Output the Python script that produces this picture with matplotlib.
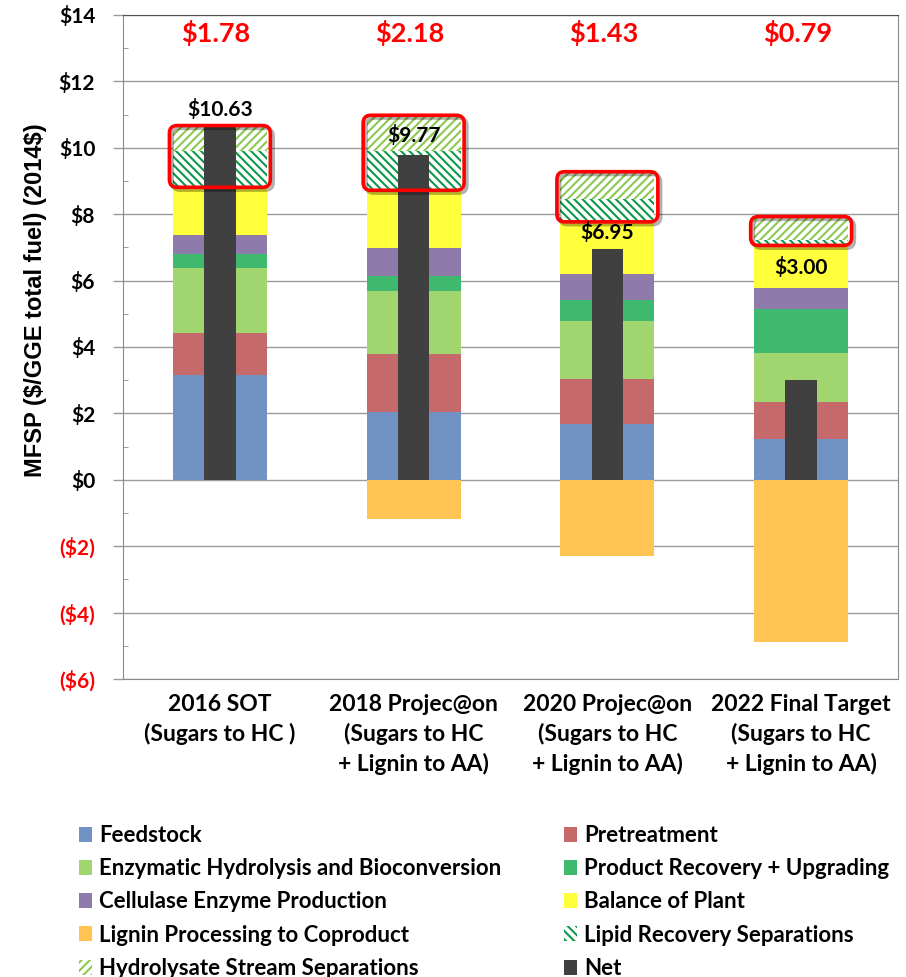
import matplotlib
matplotlib.use("Agg")
import matplotlib.pyplot as plt
import matplotlib.patheffects as pe
from matplotlib.patches import FancyBboxPatch, Patch
import numpy as np

NARROW = ["Liberation Sans Narrow", "DejaVu Sans Condensed", "Lato", "DejaVu Sans"]
plt.rcParams["font.family"] = NARROW
plt.rcParams["font.weight"] = "bold"
plt.rcParams["hatch.linewidth"] = 1.5

# --- data (2014$ / GGE) ---
categories = ["2016 SOT\n(Sugars to HC )",
              "2018 Projec@on\n(Sugars to HC\n+ Lignin to AA)",
              "2020 Projec@on\n(Sugars to HC\n+ Lignin to AA)",
              "2022 Final Target\n(Sugars to HC\n+ Lignin to AA)"]
feedstock = [3.16, 2.03, 1.68, 1.22]
pretreatment = [1.26, 1.76, 1.35, 1.11]
enzymatic = [1.96, 1.89, 1.75, 1.49]
product_recovery = [0.42, 0.45, 0.65, 1.33]
cellulase = [0.58, 0.85, 0.78, 0.64]
balance_of_plant = [1.47, 1.78, 1.60, 1.31]
lignin = [0.0, -1.17, -2.29, -4.89]
lipid = [1.05, 1.14, 0.64, 0.12]
hydrolysate = [0.73, 1.04, 0.79, 0.67]
net = [10.63, 9.77, 6.95, 3.00]
separation_costs = ["$1.78", "$2.18", "$1.43", "$0.79"]
net_labels = ["$10.63", "$9.77", "$6.95", "$3.00"]
net_label_y = [11.15, 10.36, 7.45, 6.40]

c_feed = "#7093c3"
c_pret = "#c5696b"
c_enz = "#a0d570"
c_prod = "#3fb96e"
c_cell = "#8f7bab"
c_bop = "#ffff3c"
c_lig = "#ffc452"
c_lipid = "#0a9a4a"
c_hydro = "#8cc850"
c_net = "#404040"

fig = plt.figure(figsize=(9.06, 9.77), dpi=100)
ax_l, ax_b, ax_w, ax_h = 123 / 906, 1 - 679 / 977, 775 / 906, 664 / 977
ax = fig.add_axes([ax_l, ax_b, ax_w, ax_h])

x = np.arange(len(categories))
w = 0.485
bottom = np.zeros(len(x))
solid = [(feedstock, c_feed), (pretreatment, c_pret), (enzymatic, c_enz),
         (product_recovery, c_prod), (cellulase, c_cell), (balance_of_plant, c_bop)]
for vals, col in solid:
    ax.bar(x, vals, w, bottom=bottom, color=col, lw=0, zorder=2)
    bottom += np.array(vals)
sep_bottom = bottom.copy()
ax.bar(x, lipid, w, bottom=bottom, facecolor="white", edgecolor=c_lipid,
       hatch="\\\\\\\\", lw=0, zorder=2)
bottom += np.array(lipid)
ax.bar(x, hydrolysate, w, bottom=bottom, facecolor="white", edgecolor=c_hydro,
       hatch="////", lw=0, zorder=2)
bottom += np.array(hydrolysate)
ax.bar(x, lignin, w, color=c_lig, lw=0, zorder=2)
ax.bar(x, net, 0.162, color=c_net, lw=0, zorder=3)

# red boxes round the separation costs
aspect = (ax_w * 906 / 4.0) / (ax_h * 977 / 20.0)
for i in range(len(x)):
    box = FancyBboxPatch((x[i] - w / 2 - 0.018, sep_bottom[i] - 0.04), w + 0.036,
                         bottom[i] - sep_bottom[i] + 0.08,
                         boxstyle="round,pad=0,rounding_size=0.04",
                         mutation_aspect=aspect, fill=False, ec="#ff0000", lw=2.6,
                         zorder=5,
                         path_effects=[pe.SimpleLineShadow(offset=(2, -2), alpha=0.3),
                                       pe.Normal()])
    ax.add_patch(box)
    ax.text(x[i], net_label_y[i], net_labels[i], ha="center", va="center",
            fontsize=15, color="black", zorder=6)
    ax.text(x[i] - 0.02, 13.45, separation_costs[i], ha="center", va="center",
            fontsize=19.5, color="#ff0000", zorder=6)

ax.set_xlim(-0.5, 3.5)
ax.set_ylim(-6, 14)
ax.set_yticks(np.arange(-6, 15, 2))
ax.set_yticks(np.arange(-5, 14, 2), minor=True)
ax.set_yticklabels([f"(${-v})" if v < 0 else f"${v}" for v in range(-6, 15, 2)], fontsize=15)
for lab, v in zip(ax.get_yticklabels(), range(-6, 15, 2)):
    if v < 0:
        lab.set_color("#ff0000")
ax.tick_params(axis="y", which="major", length=7, width=1, color="#9a9a9a", pad=13)
ax.tick_params(axis="y", which="minor", direction="in", length=3.5, color="#888888")
ax.set_xticks(x)
ax.set_xticklabels(categories, fontsize=16.5, linespacing=1.42)
ax.tick_params(axis="x", length=0, pad=11)
ax.grid(axis="y", color="#9a9a9a", lw=1, zorder=0)
ax.set_axisbelow(True)
for s in ("left", "bottom", "right"):
    ax.spines[s].set_color("#8a8a8a")
ax.spines["top"].set_color("#505050")
ax.set_ylabel("MFSP (\\$/GGE total fuel) (2014\\$)",
              family=["Liberation Sans", "DejaVu Sans"],
              fontsize=17, fontweight="bold")
ax.yaxis.set_label_coords(-0.098, 0.571)

# legend, row-wise order
H = {
    "Feedstock": Patch(fc=c_feed),
    "Pretreatment": Patch(fc=c_pret),
    "Enzymatic Hydrolysis and Bioconversion": Patch(fc=c_enz),
    "Product Recovery + Upgrading": Patch(fc=c_prod),
    "Cellulase Enzyme Production": Patch(fc=c_cell),
    "Balance of Plant": Patch(fc=c_bop),
    "Lignin Processing to Coproduct": Patch(fc=c_lig),
    "Lipid Recovery Separations": Patch(fc="white", ec=c_lipid, hatch="\\\\\\\\", lw=0),
    "Hydrolysate Stream Separations": Patch(fc="white", ec=c_hydro, hatch="////", lw=0),
    "Net": Patch(fc=c_net),
}
names = list(H.keys())
order = names[0::2] + names[1::2]
fig.legend([H[n] for n in order], order, loc="upper left", bbox_to_anchor=(0.065, 0.176),
           ncol=2, frameon=False, fontsize=16, handlelength=0.6, handleheight=0.65,
           handletextpad=0.32, labelspacing=0.55, columnspacing=2.8)

fig.savefig("out.png", dpi=100)
